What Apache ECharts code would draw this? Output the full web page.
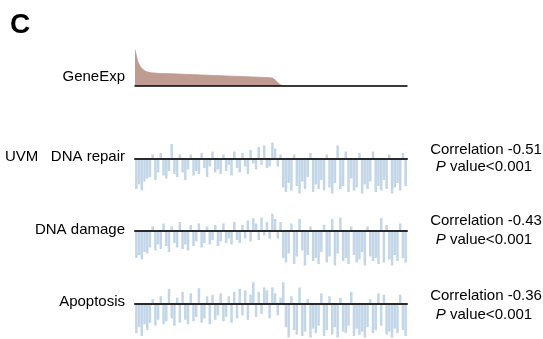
<!DOCTYPE html>
<html>
<head>
<meta charset="utf-8">
<script src="https://cdn.jsdelivr.net/npm/echarts@6/dist/echarts.min.js"></script>
<style>
  html, body { margin: 0; padding: 0; background: #fff; }
  #chart { width: 543px; height: 339px; }
</style>
</head>
<body>
<div id="chart"></div>
<script>
// ---- data ----
const cancerType = 'UVM';
const rowLabels = ['DNA repair', 'DNA damage', 'Apoptosis'];
const correlations = ['-0.51', '-0.43', '-0.36'];
const pLabels = ['<0.001', '<0.001', '<0.001'];

const geneExp = [
  10.0, 6.8, 5.3, 4.5, 4.0, 3.8, 3.65, 3.6, 3.55, 3.5,
  3.48, 3.45, 3.42, 3.4, 3.37, 3.34, 3.31, 3.28, 3.25, 3.22,
  3.19, 3.16, 3.13, 3.1, 3.07, 3.04, 3.01, 2.98, 2.95, 2.92,
  2.89, 2.86, 2.83, 2.8, 2.77, 2.74, 2.71, 2.68, 2.65, 2.62,
  2.59, 2.56, 2.53, 2.5, 2.47, 2.44, 2.41, 2.38, 2.35, 2.3,
  2.2, 1.7, 0.9, 0.3,
  0, 0, 0, 0, 0, 0, 0, 0, 0, 0, 0, 0, 0, 0, 0, 0, 0, 0, 0, 0, 0, 0, 0,
  0, 0, 0, 0, 0, 0, 0, 0, 0, 0, 0, 0, 0, 0, 0, 0, 0, 0, 0, 0, 0, 0, 0
];

const dnaRepair = [
  -2.0, -1.7, -2.1, -1.5, -1.3,
  -1.2, 0.3, -1.4, -0.9, 0.4, -1.1, -1.3, -0.8, 1.0, -1.0, -1.2, 0.3, -0.9, -1.4, -0.7,
  0.3, -1.1, -0.8, -1.0, 0.4, -0.6, -1.2, -0.5, 0.5, -0.9, -0.7, -1.0, 0.3, -0.8, -0.4, -1.1, 0.5, -0.6, -0.9, 0.4,
  -0.5, -1.0, 0.6, -0.3, -0.7, 0.8, -0.4, 0.9, -0.6, -0.5, 1.1, 0.7, -0.5, 0.3,
  -1.9, -2.2, -1.6, -2.1, 0.3, -1.8, -2.3, -1.5, -2.0, -1.2,
  0.4, -2.2, -1.7, -2.0, -1.4, -2.1, 0.3, -1.9, -2.3, -1.6,
  0.9, -2.0, -1.8, 0.5, -2.2, -1.3, -2.1, -1.9, 0.4, -2.3,
  -1.7, -2.0, -1.5, 0.5, -2.2, -1.8, -2.1, -1.4, -2.0, 0.3,
  -2.3, -1.9, -1.6, -2.1, 0.4, -1.8
];

const dnaDamage = [
  -1.8, -1.6, -1.9, -1.4, -1.5,
  -1.1, 0.3, -1.3, -0.9, -1.2, 0.5, -1.0, -1.4, 0.3, -0.8, -1.1, 0.6, -1.2, -0.9, -1.3,
  0.4, -1.0, -0.7, 0.5, -1.1, -0.8, 0.3, -0.9, -0.6, 0.4, -1.0, -0.7, 0.5, -0.8, -0.5, -0.9, 0.6, -0.6, -0.8, 0.4,
  -0.5, 0.7, -0.7, 0.85, 0.5, -0.6, 0.9, -0.3, 0.6, -0.5, 1.15, 0.8, -0.5, 0.6,
  -1.8, -2.1, -1.5, 0.5, -2.2, -1.7, 0.8, -1.3, -2.3, -1.6,
  0.3, -2.0, -1.8, -2.2, -1.4, 0.4, -2.1, -1.7, 0.8, -2.3,
  -1.5, 0.9, -2.0, -1.8, -2.2, 0.3, -1.6, -2.1, -1.9, -1.4,
  -2.3, 0.3, -1.7, -2.0, -1.8, -2.2, 0.85, -2.1, 0.4, -1.9,
  -2.3, -1.6, -2.0, 0.5, -1.8, -2.1
];

const apoptosis = [
  -2.0, -1.6, -2.2, -1.4, -1.8,
  -1.3, 0.3, -1.5, -1.1, 0.5, -1.4, -1.2, 1.0, -1.0, -1.5, 0.4, -1.3, 0.8, -1.1, -1.4,
  0.7, -1.2, -0.9, 1.05, -1.3, -1.0, 0.5, -1.4, 0.6, -1.1, -0.8, 0.7, -1.2, -0.9, 0.5, -1.3, 0.8, -1.0, 1.0, -0.8,
  0.9, -1.1, 0.6, 1.45, -0.9, 0.8, -0.7, 1.1, 0.9, -1.0, 1.1, 0.7, -0.8, 0.4,
  1.45, -1.6, -2.3, 0.5, -1.8, -2.1, 1.1, -2.2, -1.9, 0.3,
  -2.3, -1.7, -2.0, -1.5, 0.7, -2.2, -1.8, 0.5, -2.1, -1.6,
  -2.3, 0.4, -1.9, -2.0, -1.5, 0.8, -2.2, -1.7, -2.1, -1.9,
  -2.3, -1.6, 0.3, -2.0, -1.8, 0.7, -1.5, 0.6, -2.1, -1.9,
  -2.3, -1.7, -2.0, 0.6, -1.8, -2.2
];

const samples = geneExp.map((_, i) => 'S' + (i + 1));
const scoreSeries = [dnaRepair, dnaDamage, apoptosis];

// ---- layout ----
const FONT = '"Liberation Sans", Arial, sans-serif';
const plotLeft = 135, plotRight = 136;
const grids = [
  { left: plotLeft, right: plotRight, top: 47.5, height: 38.5 },    // GeneExp
  { left: plotLeft, right: plotRight, top: 141, height: 54 },       // DNA repair
  { left: plotLeft, right: plotRight, top: 213, height: 54 },       // DNA damage
  { left: plotLeft, right: plotRight, top: 281.5, height: 58.5 }    // Apoptosis
];
const yRanges = [[0, 10.7], [-2.4, 1.2], [-2.4, 1.2], [-2.4, 1.5]];

const xAxes = grids.map((g, i) => ({
  type: 'category', gridIndex: i, data: samples, z: 5,
  boundaryGap: i === 0 ? false : true,
  axisLine: { show: true, onZero: true, lineStyle: { color: i === 0 ? '#000' : '#2a2a2a', width: i === 0 ? 1.5 : 2 } },
  axisTick: { show: false }, axisLabel: { show: false }, splitLine: { show: false }
}));
const yAxes = grids.map((g, i) => ({
  type: 'value', gridIndex: i, min: yRanges[i][0], max: yRanges[i][1],
  axisLine: { show: false }, axisTick: { show: false }, axisLabel: { show: false }, splitLine: { show: false }
}));

const series = [{
  type: 'line', xAxisIndex: 0, yAxisIndex: 0, data: geneExp,
  symbol: 'none', lineStyle: { width: 0.8, color: '#bf9990' },
  areaStyle: { color: '#c09b92', opacity: 1 }, silent: true
}];
scoreSeries.forEach((arr, k) => {
  series.push({
    type: 'bar', xAxisIndex: k + 1, yAxisIndex: k + 1, data: arr,
    barCategoryGap: '8%', itemStyle: { color: 'rgba(168,196,222,0.7)' }, silent: true
  });
});

const labelY = [157, 230, 302];
const corrY = [[150, 167], [221, 240], [296, 315]];
const graphics = [
  { type: 'text', left: 10, top: 11, style: { text: 'C', font: 'bold 28px ' + FONT, fill: '#000' } },
  { type: 'text', x: 125, y: 77, style: { text: 'GeneExp', font: '15px ' + FONT, fill: '#000', textAlign: 'right', textVerticalAlign: 'middle' } },
  { type: 'text', x: 5, y: labelY[0], style: { text: cancerType, font: '15px ' + FONT, fill: '#000', textAlign: 'left', textVerticalAlign: 'middle' } }
];
rowLabels.forEach((lab, k) => {
  graphics.push({ type: 'text', x: 125, y: labelY[k], style: { text: lab, font: '15px ' + FONT, fill: '#000', textAlign: 'right', textVerticalAlign: 'middle' } });
  graphics.push({ type: 'text', x: 486, y: corrY[k][0], style: { text: 'Correlation ' + correlations[k], font: '15px ' + FONT, fill: '#000', textAlign: 'center', textVerticalAlign: 'middle' } });
  graphics.push({ type: 'text', x: 484, y: corrY[k][1], style: {
    text: '{i|P} value' + pLabels[k], font: '15px ' + FONT, fill: '#000', textAlign: 'center', textVerticalAlign: 'middle',
    rich: { i: { fontStyle: 'italic', fontFamily: FONT, fontSize: 15, fill: '#000' } }
  } });
});

const chart = echarts.init(document.getElementById('chart'), null, { renderer: 'canvas' });
chart.setOption({
  animation: false,
  backgroundColor: '#fff',
  grid: grids,
  xAxis: xAxes,
  yAxis: yAxes,
  series: series,
  graphic: graphics
});
</script>
</body>
</html>
